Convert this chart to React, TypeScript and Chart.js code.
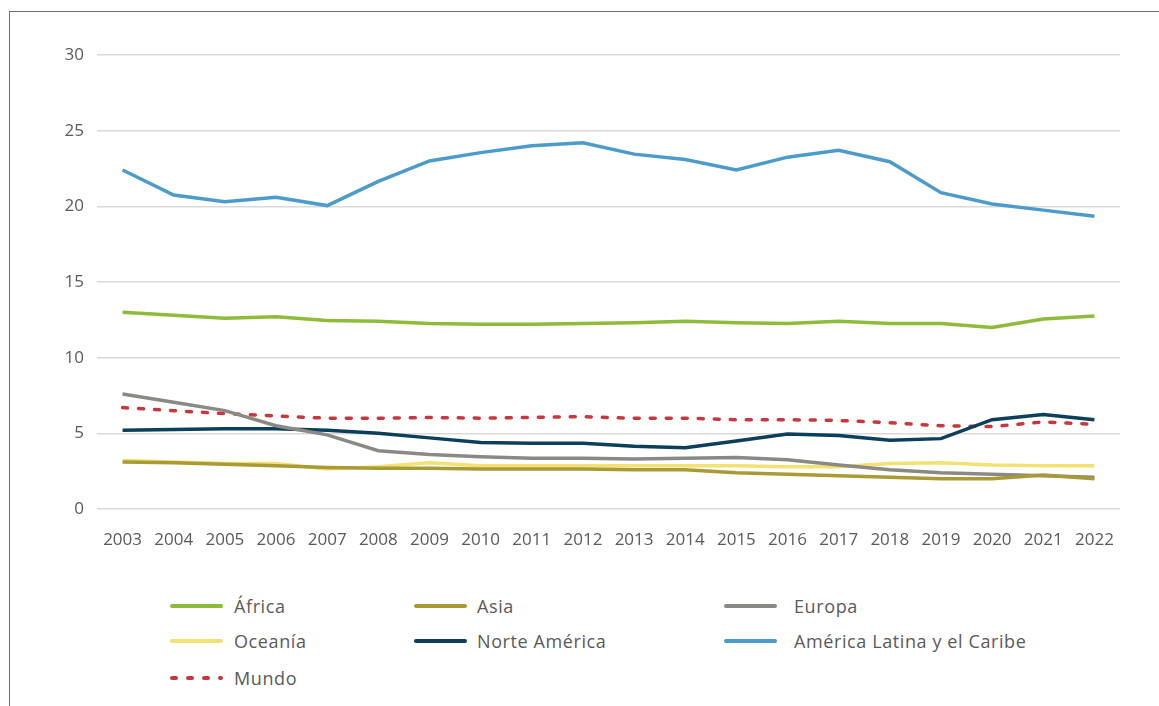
import React, { useEffect, useRef } from "react";
import { Chart, registerables } from "chart.js";

Chart.register(...registerables);

const years = ["2003","2004","2005","2006","2007","2008","2009","2010","2011","2012","2013","2014","2015","2016","2017","2018","2019","2020","2021","2022"];

const africa = [13.0,12.8,12.6,12.7,12.45,12.4,12.25,12.2,12.2,12.25,12.3,12.4,12.3,12.25,12.4,12.25,12.25,12.0,12.55,12.75];
const asia = [3.1,3.05,2.95,2.85,2.75,2.7,2.7,2.65,2.65,2.65,2.6,2.6,2.4,2.3,2.2,2.1,2.0,2.0,2.25,2.0];
const europa = [7.6,7.05,6.5,5.5,4.9,3.85,3.6,3.45,3.35,3.35,3.3,3.35,3.4,3.25,2.9,2.6,2.4,2.3,2.2,2.1];
const oceania = [3.2,3.1,3.0,3.0,2.65,2.8,3.05,2.85,2.85,2.85,2.85,2.85,2.85,2.8,2.8,3.0,3.05,2.9,2.85,2.85];
const norteAmerica = [5.2,5.25,5.3,5.3,5.2,5.0,4.7,4.4,4.35,4.35,4.15,4.05,4.5,4.95,4.85,4.55,4.65,5.9,6.25,5.9];
const americaLatina = [22.4,20.75,20.3,20.6,20.05,21.65,23.0,23.55,24.0,24.2,23.45,23.1,22.4,23.25,23.7,22.95,20.9,20.15,19.75,19.35];
const mundo = [6.7,6.5,6.3,6.15,6.0,6.0,6.05,6.0,6.05,6.1,6.0,6.0,5.9,5.9,5.85,5.7,5.5,5.45,5.75,5.6];

const yTicks = [0, 5, 10, 15, 20, 25, 30];

const seriesNames = ["África","Asia","Europa","Oceanía","Norte América","América Latina y el Caribe","Mundo"];
const seriesColors = ["#8dbb3a","#a99a36","#8a8984","#f4e173","#0c3f5b","#4b9bcb","#c8383a"];
const seriesValues = [africa, asia, europa, oceania, norteAmerica, americaLatina, mundo];

const TEXT = "#5a5a5a";
const FONT = "'Open Sans', 'DejaVu Sans', sans-serif";

// legend grid positions (column, row)
const legendCols = [172, 416, 726];
const legendTextOffset = [62, 61, 68];
const legendRows = [606, 641, 678];
const legendSlots = [[0,0],[1,0],[2,0],[0,1],[1,1],[2,1],[0,2]];

export default function App() {
  const ref = useRef<HTMLCanvasElement>(null);

  useEffect(() => {
    if (!ref.current) return;
    const chart = new Chart(ref.current, {
      type: "line",
      data: {
        labels: years,
        datasets: seriesValues.map((vals, i) => ({
          label: seriesNames[i],
          data: vals,
          borderColor: seriesColors[i],
          backgroundColor: seriesColors[i],
          borderWidth: 3.5,
          pointRadius: 0,
          tension: 0,
          borderDash: i === 6 ? [5, 11] : [],
          borderCapStyle: i === 6 ? "round" : "butt",
          order: i === 6 ? 10 : i,
        })),
      },
      options: {
        animation: false,
        responsive: false,
        maintainAspectRatio: false,
        layout: { padding: { left: 0, right: 39, top: 55, bottom: 0 } },
        plugins: { legend: { display: false }, tooltip: { enabled: false } },
        scales: {
          x: {
            offset: true,
            grid: { display: false, drawTicks: false },
            border: { display: false },
            ticks: { color: TEXT, font: { family: FONT, size: 17 }, padding: 21, maxRotation: 0, autoSkip: false },
            afterFit: (s: any) => { s.height = 51; },
          },
          y: {
            min: 0,
            max: 30,
            afterBuildTicks: (s: any) => { s.ticks = yTicks.map((v) => ({ value: v })); },
            grid: { color: "#d9d9d9", lineWidth: 1.5, drawTicks: false },
            border: { display: false },
            ticks: { color: TEXT, font: { family: FONT, size: 17 }, padding: 13 },
            afterFit: (s: any) => { s.width = 97; },
          },
        },
      },
    });
    return () => chart.destroy();
  }, []);

  return (
    <div style={{ position: "absolute", left: 0, top: 0, width: 1159, height: 706, background: "#fff", overflow: "hidden", fontFamily: FONT }}>
      <div style={{ position: "absolute", left: 9, top: 11, width: 1200, height: 800, borderLeft: "1px solid #6e6e6e", borderTop: "1px solid #6e6e6e" }} />
      <canvas ref={ref} width={1159} height={560} style={{ position: "absolute", left: 0, top: 0, width: 1159, height: 560 }} />
      {seriesNames.map((name, i) => {
        const [c, r] = legendSlots[i];
        const x = legendCols[c];
        const y = legendRows[r];
        return (
          <React.Fragment key={name}>
            <svg style={{ position: "absolute", left: x - 2, top: y - 4, width: 56, height: 8 }}>
              <line x1={2} y1={4} x2={51} y2={4} stroke={seriesColors[i]} strokeWidth={4}
                strokeLinecap="round" strokeDasharray={i === 6 ? "4 12" : undefined} />
            </svg>
            <div style={{ position: "absolute", left: x + legendTextOffset[c], top: y - 12, fontSize: 18, lineHeight: "24px", color: TEXT, whiteSpace: "nowrap", letterSpacing: "0.6px" }}>
              {name}
            </div>
          </React.Fragment>
        );
      })}
    </div>
  );
}
